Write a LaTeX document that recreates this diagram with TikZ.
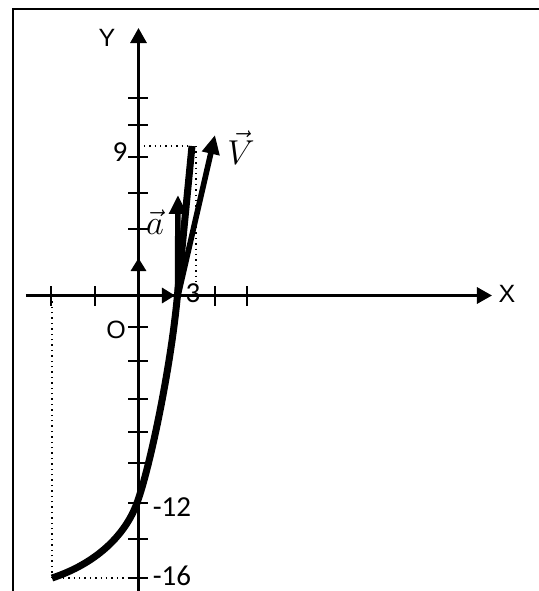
\documentclass[tikz,border=0pt]{standalone}
\usepackage{fontspec}
\setsansfont{Liberation Sans}
\newfontfamily\numfont{Carlito}
\usetikzlibrary{arrows.meta}

\tikzset{
  axis/.style={line width=1.5pt, -{Triangle[length=7.5pt,width=8pt]}},
  axtick/.style={line width=1.2pt},
  unitvec/.style={line width=1.5pt, -{Triangle[length=6.5pt,width=7.5pt]}},
  vecarrow/.style={line width=2.8pt, -{Triangle[length=9.5pt,width=8.5pt]}},
  guide/.style={line width=0.7pt, dotted},
  axlabel/.style={font=\sffamily\fontsize{12.5}{14}\selectfont, inner sep=0pt},
  numlabel/.style={font=\numfont\fontsize{14.5}{16}\selectfont, inner sep=0pt},
  veclabel/.style={font=\fontsize{16}{18}\selectfont, inner sep=0pt}
}

\begin{document}
\begin{tikzpicture}[x=0.5pt, y=0.5pt]
\useasboundingbox (0,0) rectangle (539,591);
%\draw[step=20,gray,very thin] (0,0) grid (539,591); %grid lines

% frame
\draw[line width=1pt] (13,0) -- (13,582) -- (539,582);

% axes
\coordinate (O) at (138.5,295.5);
\coordinate (Xl) at (26,295.5);
\coordinate (Xr) at (492,295.5);
\coordinate (Yb) at (138.5,0);
\coordinate (Yt) at (138.5,563);
\draw[axis] (Xl) -- (Xr);
\draw[axis] (Yb) -- (Yt);
\node[axlabel] (Xlab) at (507,297) {X};
\node[axlabel] (Ylab) at (107,553) {Y};
\node[axlabel] (Olab) at (116,261) {O};

% ticks on x axis
\draw[axtick] (51,285.5) -- (51,305.5);
\draw[axtick] (95,285.5) -- (95,305.5);
\draw[axtick] (215,285.5) -- (215,305.5);
\draw[axtick] (247,285.5) -- (247,305.5);

% ticks on y axis
\draw[axtick] (128.5,493) -- (148.5,493);
\draw[axtick] (128.5,466) -- (148.5,466);
\draw[axtick] (128.5,434) -- (148.5,434);
\draw[axtick] (128.5,398) -- (148.5,398);
\draw[axtick] (128.5,362) -- (148.5,362);
\draw[axtick] (128.5,264) -- (148.5,264);
\draw[axtick] (128.5,230) -- (148.5,230);
\draw[axtick] (128.5,192) -- (148.5,192);
\draw[axtick] (128.5,159) -- (148.5,159);
\draw[axtick] (128.5,128) -- (148.5,128);
\draw[axtick] (128.5,88) -- (148.5,88);
\draw[axtick] (128.5,52) -- (148.5,52);
\draw[axtick] (128.5,13) -- (148.5,13);

\node[numlabel] (nine) at (120,439) {9};
\node[numlabel] (three) at (193,298) {3};
\node[numlabel] (m12) at (172,84) {-12};
\node[numlabel] (m16) at (172,15) {-16};

% unit vectors
\coordinate (I) at (175,295.5);
\coordinate (J) at (138.5,333);
\draw[unitvec] (O) -- (I);
\draw[unitvec] (O) -- (J);

% trajectory
\coordinate (P0) at (52,13);
\coordinate (Q) at (137,88);
\coordinate (M0) at (177,291);
\coordinate (P1) at (192,445);
\draw[line width=3.5pt] (P0) .. controls (95,27) and (125,55) .. (Q)
  .. controls (150,124) and (170,220) .. (M0) -- (P1);

% dotted guides
\coordinate (P0x) at (52,295.5);
\coordinate (P0y) at (138.5,13);
\coordinate (P1y) at (138.5,445);
\coordinate (P1e) at (190,445);
\coordinate (Ga) at (196,445);
\coordinate (Gb) at (196,308);
\draw[guide] (P0) -- (P0x);
\draw[guide] (P0) -- (P0y);
\draw[guide] (P1y) -- (P1e);
\draw[guide] (Ga) -- (Gb);

% velocity and acceleration
\coordinate (M) at (177.5,293);
\coordinate (Atip) at (178,396);
\coordinate (Vtip) at (215,456);
\draw[vecarrow] (M) -- (Atip);
\draw[vecarrow] (M) -- (Vtip);
\node[veclabel] (alab) at (155,369) {$\vec{a}$};
\node[veclabel] (Vlab) at (241,443) {$\vec{V}$};
\end{tikzpicture}
\end{document}
